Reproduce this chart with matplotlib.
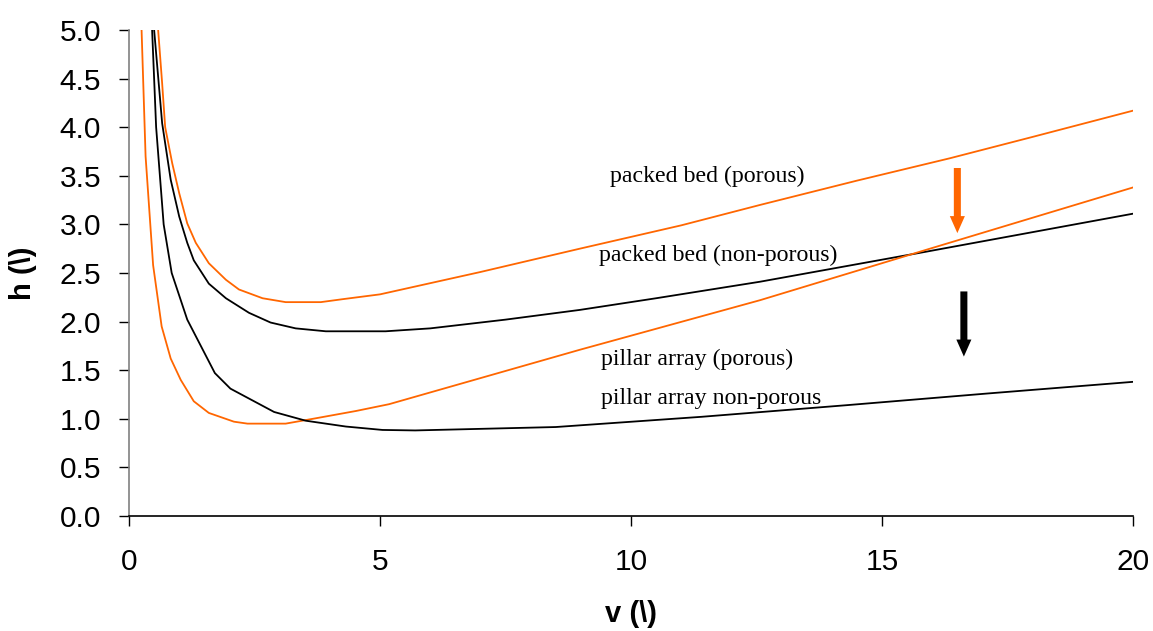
import matplotlib
matplotlib.use("Agg")
import matplotlib.pyplot as plt

# Plate height h versus reduced velocity v for four column types
v_packed_porous = [0.58, 0.66, 0.72, 0.86, 1.0, 1.16, 1.33, 1.59, 1.93, 2.19, 2.66, 3.12,
                   3.82, 4.25, 5.0, 7.0, 8.98, 11.0, 12.57, 14.5, 16.35, 18.0, 20.0]
h_packed_porous = [5.0, 4.45, 4.0, 3.63, 3.32, 3.01, 2.81, 2.60, 2.43, 2.33, 2.24, 2.20,
                   2.20, 2.23, 2.28, 2.51, 2.75, 2.99, 3.20, 3.45, 3.68, 3.90, 4.17]

v_packed_nonporous = [0.50, 0.66, 0.83, 1.0, 1.16, 1.29, 1.59, 1.93, 2.39, 2.82, 3.32, 3.92,
                      5.11, 6.0, 7.5, 8.98, 10.5, 12.57, 15.89, 20.0]
h_packed_nonporous = [5.0, 4.04, 3.46, 3.08, 2.81, 2.63, 2.39, 2.24, 2.09, 1.99, 1.93, 1.90,
                      1.90, 1.93, 2.02, 2.12, 2.24, 2.41, 2.72, 3.11]

v_pillar_porous = [0.25, 0.33, 0.48, 0.65, 0.83, 1.03, 1.29, 1.59, 2.09, 2.36, 3.12, 3.72,
                   4.52, 5.18, 8.98, 12.57, 15.89, 20.0]
h_pillar_porous = [5.0, 3.70, 2.58, 1.95, 1.62, 1.40, 1.18, 1.06, 0.97, 0.95, 0.95, 1.005,
                   1.08, 1.15, 1.71, 2.22, 2.74, 3.38]

v_pillar_nonporous = [0.46, 0.54, 0.69, 0.85, 1.16, 1.71, 2.02, 2.89, 3.52, 4.32, 5.05, 5.7,
                      8.5, 11.4, 14.3, 17.1, 20.0]
h_pillar_nonporous = [5.0, 4.0, 3.0, 2.5, 2.02, 1.47, 1.31, 1.07, 0.98, 0.92, 0.885, 0.88,
                      0.915, 1.02, 1.14, 1.26, 1.38]

x_ticks = [0, 5, 10, 15, 20]
y_ticks = [0.0, 0.5, 1.0, 1.5, 2.0, 2.5, 3.0, 3.5, 4.0, 4.5, 5.0]

curve_labels = ["packed bed (porous)", "packed bed (non-porous)",
                "pillar array (porous)", "pillar array non-porous"]
label_pos = [(9.58, 3.44), (9.37, 2.62), (9.40, 1.55), (9.40, 1.15)]

ORANGE = "#FF6600"
BLACK = "#000000"

fig = plt.figure(figsize=(11.53, 6.31), dpi=100)
ax = fig.add_axes([0.1119, 0.1823, 0.8708, 0.7702])

lw = 1.3
ax.plot(v_packed_porous, h_packed_porous, color=ORANGE, lw=lw)
ax.plot(v_packed_nonporous, h_packed_nonporous, color=BLACK, lw=lw)
ax.plot(v_pillar_porous, h_pillar_porous, color=ORANGE, lw=lw)
ax.plot(v_pillar_nonporous, h_pillar_nonporous, color=BLACK, lw=lw)

for text, (x, y) in zip(curve_labels, label_pos):
    ax.text(x, y, text, family="Liberation Serif", fontsize=17.2,
            ha="left", va="baseline")

# Arrows marking the drop from packed bed to pillar array
ax.arrow(16.5, 3.58, 0, 2.91 - 3.58, width=0.14, head_width=0.30,
         head_length=0.175, length_includes_head=True, color=ORANGE, lw=0)
ax.arrow(16.63, 2.31, 0, 1.64 - 2.31, width=0.14, head_width=0.30,
         head_length=0.175, length_includes_head=True, color=BLACK, lw=0)

ax.set_xlim(0, 20)
ax.set_ylim(0, 5)
ax.set_xticks(x_ticks)
ax.set_xticklabels([str(t) for t in x_ticks])
ax.set_yticks(y_ticks)
ax.set_yticklabels([f"{t:.1f}" for t in y_ticks])

for lab in ax.get_xticklabels() + ax.get_yticklabels():
    lab.set_family("Liberation Sans")
    lab.set_fontsize(21.5)

ax.tick_params(axis="x", direction="out", length=7, width=1, pad=16, colors="black")
ax.tick_params(axis="y", direction="out", length=7, width=1, pad=13, colors="black")

ax.spines["top"].set_visible(False)
ax.spines["right"].set_visible(False)
ax.spines["left"].set_color("#808080")
ax.spines["left"].set_linewidth(1.2)
ax.spines["bottom"].set_color("black")
ax.spines["bottom"].set_linewidth(1.2)

ax.set_xlabel("v (\\)", family="Liberation Sans", fontweight="bold", fontsize=21)
ax.set_ylabel("h (\\)", family="Liberation Sans", fontweight="bold", fontsize=21)
ax.xaxis.set_label_coords(0.5, -0.172)
ax.yaxis.set_label_coords(-0.092, 0.5)

fig.savefig("out.png", dpi=100, facecolor="white")
